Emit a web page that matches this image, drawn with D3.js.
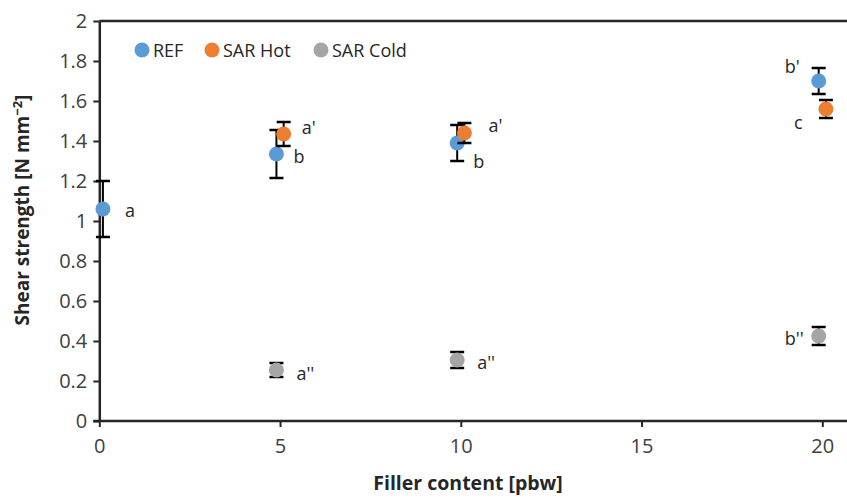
<!DOCTYPE html>
<html>
<head>
<meta charset="utf-8">
<script src="https://cdn.jsdelivr.net/npm/d3@7/dist/d3.min.js"></script>
<style>
  html, body { margin: 0; padding: 0; background: #fff; }
  svg { display: block; font-family: "Open Sans", sans-serif; }
</style>
</head>
<body>
<svg id="chart" width="847" height="499"></svg>
<script>
// Shear strength vs filler content, three series with standard deviations
const seriesNames = ["REF", "SAR Hot", "SAR Cold"];
const seriesColors = ["#5B9BD5", "#ED7D31", "#A5A5A5"];

const refX = [0.1, 4.9, 9.9, 19.9];
const refY = [1.06, 1.335, 1.39, 1.70];
const refErr = [0.14, 0.12, 0.09, 0.065];
const refLabels = ["a", "b", "b", "b'"];

const hotX = [5.1, 10.1, 20.1];
const hotY = [1.435, 1.44, 1.56];
const hotErr = [0.06, 0.05, 0.045];
const hotLabels = ["a'", "a'", "c"];

const coldX = [4.9, 9.9, 19.9];
const coldY = [0.255, 0.305, 0.425];
const coldErr = [0.035, 0.04, 0.045];
const coldLabels = ["a''", "a''", "b''"];

const xTicks = [0, 5, 10, 15, 20];
const yTicks = [0, 0.2, 0.4, 0.6, 0.8, 1, 1.2, 1.4, 1.6, 1.8, 2];

const W = 847, H = 499;
const svg = d3.select("#chart");

const x = d3.scaleLinear().domain([0, 20]).range([99.3, 822.3]);
const y = d3.scaleLinear().domain([0, 2]).range([421, 21]);

const axisColor = "#262626";

// Top frame line
svg.append("line")
  .attr("x1", x(0)).attr("x2", W)
  .attr("y1", y(2)).attr("y2", y(2))
  .attr("stroke", axisColor).attr("stroke-width", 2.5);

// Y axis
const gy = svg.append("g").attr("transform", `translate(${x(0)},0)`)
  .call(d3.axisLeft(y).tickValues(yTicks).tickSize(6).tickSizeOuter(0)
    .tickFormat(d => d3.format("")(+d.toFixed(1))));
gy.select(".domain").attr("stroke", axisColor).attr("stroke-width", 2.5);
gy.selectAll(".tick line").attr("stroke", axisColor).attr("stroke-width", 2);
gy.selectAll(".tick text").attr("font-size", 20).attr("fill", "#404040")
  .attr("font-family", "Open Sans, sans-serif").attr("x", -12);

// X axis
const gx = svg.append("g").attr("transform", `translate(0,${y(0)})`)
  .call(d3.axisBottom(x).tickValues(xTicks).tickSize(6).tickSizeOuter(0));
gx.select(".domain").remove();
gx.append("line").attr("x1", x(0) - 6).attr("x2", W)
  .attr("stroke", axisColor).attr("stroke-width", 2.5);
gx.selectAll(".tick line").attr("stroke", axisColor).attr("stroke-width", 2);
gx.selectAll(".tick text").attr("font-size", 20).attr("fill", "#404040")
  .attr("font-family", "Open Sans, sans-serif").attr("y", 18);

// Axis titles
svg.append("text")
  .attr("x", 468).attr("y", 490)
  .attr("text-anchor", "middle")
  .attr("font-size", 19.5).attr("font-weight", "bold").attr("fill", "#262626")
  .text("Filler content [pbw]");

const yTitle = svg.append("text")
  .attr("transform", "translate(29,210) rotate(-90)")
  .attr("text-anchor", "middle")
  .attr("font-size", 19).attr("font-weight", "bold").attr("fill", "#262626");
yTitle.append("tspan").text("Shear strength [N mm");
yTitle.append("tspan").attr("dy", -7).attr("font-size", 13).text("\u22122");
yTitle.append("tspan").attr("dy", 7).text("]");

// Series data assembled for drawing
const series = [
  { name: seriesNames[0], color: seriesColors[0], xs: refX, ys: refY, es: refErr, ls: refLabels },
  { name: seriesNames[1], color: seriesColors[1], xs: hotX, ys: hotY, es: hotErr, ls: hotLabels },
  { name: seriesNames[2], color: seriesColors[2], xs: coldX, ys: coldY, es: coldErr, ls: coldLabels }
];

// Offsets for the significance letters next to each point
const labelOffsets = [
  [[22, 8], [17, 9], [16, 25], [-34, -8]],
  [[18, 0], [24, -1], [-32, 20]],
  [[20, 10], [20, 9], [-34, 9]]
];

const capHalf = 7;
series.forEach((s, si) => {
  const g = svg.append("g");
  s.xs.forEach((xv, i) => {
    const cx = x(xv), top = y(s.ys[i] + s.es[i]), bot = y(s.ys[i] - s.es[i]);
    g.append("line").attr("x1", cx).attr("x2", cx).attr("y1", top).attr("y2", bot)
      .attr("stroke", "#000").attr("stroke-width", 2);
    [top, bot].forEach(yy => g.append("line")
      .attr("x1", cx - capHalf).attr("x2", cx + capHalf).attr("y1", yy).attr("y2", yy)
      .attr("stroke", "#000").attr("stroke-width", 2.5));
  });
  g.selectAll("circle").data(s.xs).enter().append("circle")
    .attr("cx", (d) => x(d)).attr("cy", (d, i) => y(s.ys[i]))
    .attr("r", 7.5).attr("fill", s.color);
  s.xs.forEach((xv, i) => {
    const [dx, dy] = labelOffsets[si][i];
    svg.append("text")
      .attr("x", x(xv) + dx).attr("y", y(s.ys[i]) + dy)
      .attr("font-size", 18).attr("fill", "#262626")
      .text(s.ls[i]);
  });
});

// Legend
const legendX = [142, 212, 321];
const lg = svg.append("g");
series.forEach((s, i) => {
  lg.append("circle").attr("cx", legendX[i]).attr("cy", 50).attr("r", 7.5).attr("fill", s.color);
  lg.append("text").attr("x", legendX[i] + 11).attr("y", 56.5)
    .attr("font-size", 18).attr("fill", "#262626").text(s.name);
});
</script>
</body>
</html>
